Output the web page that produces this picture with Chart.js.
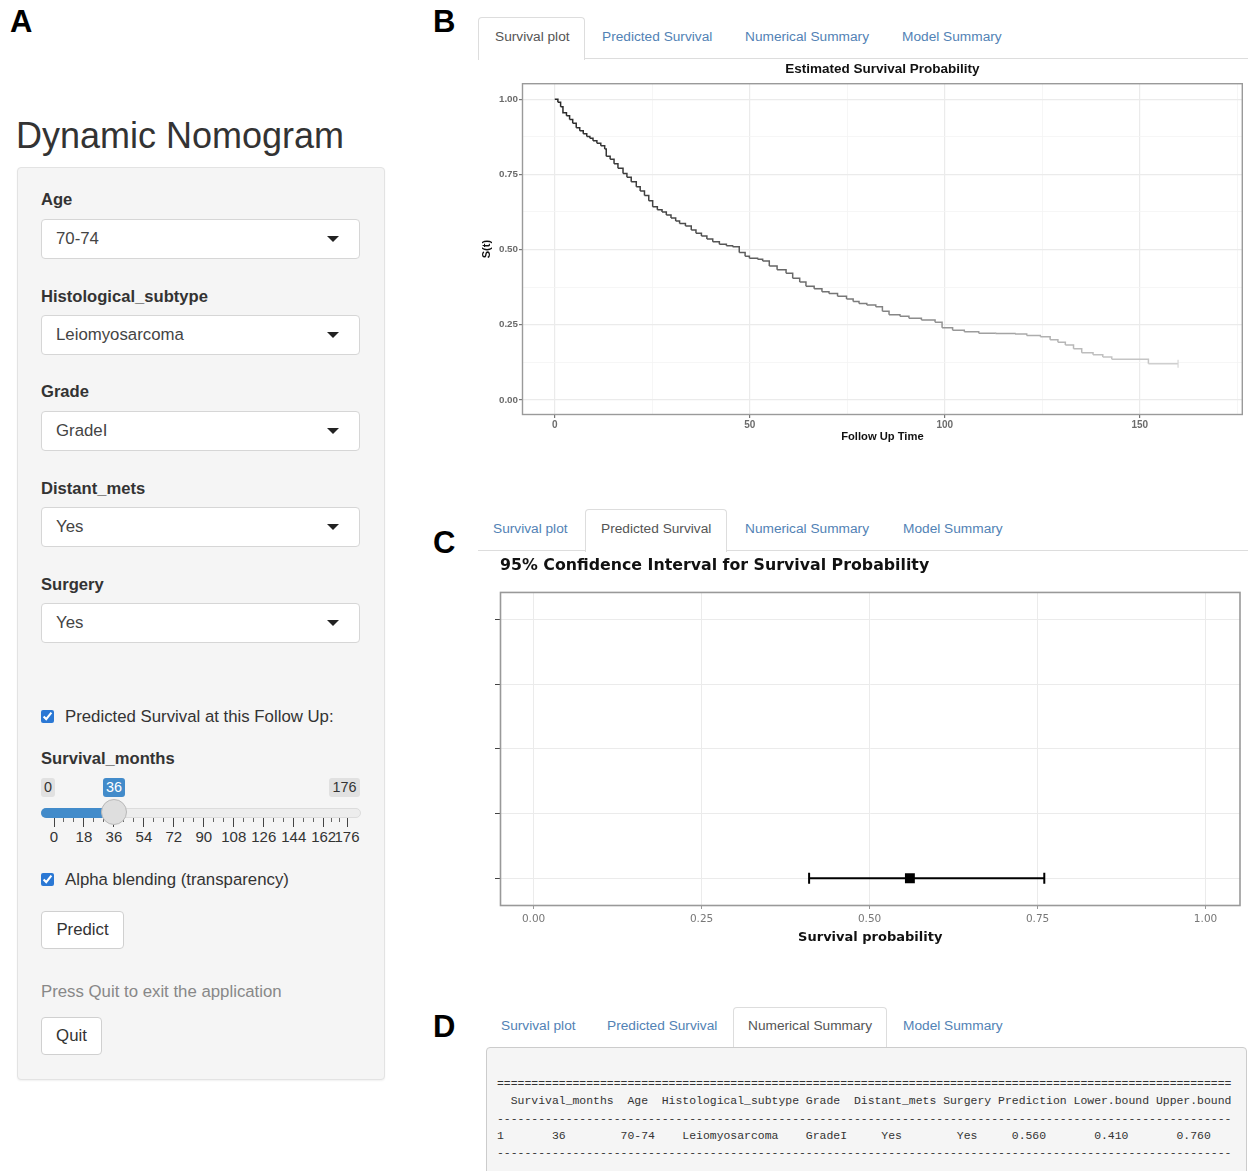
<!DOCTYPE html>
<html><head><meta charset="utf-8">
<script src="https://cdn.jsdelivr.net/npm/chart.js@4.4.1/dist/chart.umd.min.js"></script>
<style>
body{margin:0;background:#fff;width:1248px;height:1171px;position:relative;overflow:hidden;font-family:"Liberation Sans",Arial,sans-serif;color:#333;}
.abs{position:absolute;white-space:nowrap;}
.plab{position:absolute;font-weight:bold;font-size:31px;line-height:32px;color:#000;}
.well{position:absolute;left:17px;top:167px;width:366px;height:911px;background:#f5f5f5;border:1px solid #e3e3e3;border-radius:4px;box-shadow:0 1px 2px rgba(0,0,0,.06);}
.lbl{position:absolute;left:41px;font-weight:bold;font-size:16.6px;line-height:20px;color:#333;white-space:nowrap;}
.sel{position:absolute;left:41px;width:317px;height:38px;background:#fff;border:1px solid #d6d6d6;border-radius:4px;}
.sel span{position:absolute;left:14px;top:9px;font-size:16.8px;line-height:20px;color:#444;}
.sel i{position:absolute;right:20px;top:16px;width:0;height:0;border-left:6px solid transparent;border-right:6px solid transparent;border-top:6px solid #222;}
.txt{position:absolute;font-size:16.8px;line-height:20px;color:#333;white-space:nowrap;}
.cb{position:absolute;left:41px;width:13px;height:13px;margin:0;accent-color:#2b78d4;}
.btn{position:absolute;left:41px;height:36px;background:#fff;border:1px solid #d0d0d0;border-radius:4px;font-size:16.8px;line-height:36px;text-align:center;color:#333;}
.tab{position:absolute;font-size:13.7px;line-height:16px;color:#5282b5;white-space:nowrap;}
.tab.on{color:#555;}
.tabbox{position:absolute;border:1px solid #ddd;border-bottom:none;background:#fff;border-radius:4px 4px 0 0;}
.nav{position:absolute;height:1px;background:#ddd;}
.pre{position:absolute;left:486px;top:1047px;width:759px;height:140px;background:#f5f5f5;border:1px solid #ccc;border-radius:4px;}
.pre pre{position:absolute;left:10px;top:27px;margin:0;font-family:"Liberation Mono","DejaVu Sans Mono",monospace;font-size:11.45px;line-height:17.25px;color:#333;}
.sl-lab{position:absolute;top:778px;height:19px;font-size:14.4px;line-height:19px;text-align:center;border-radius:3px;}
</style></head>
<body>
<div class="plab" style="left:10px;top:6px">A</div>
<div class="plab" style="left:433px;top:6px">B</div>
<div class="plab" style="left:433px;top:527px">C</div>
<div class="plab" style="left:433px;top:1011px">D</div>

<div class="abs" style="left:16px;top:116px;font-size:36px;line-height:40px;color:#333">Dynamic Nomogram</div>
<div class="well"></div>
<div id="inputs"></div>

<input type="checkbox" class="cb" style="top:710px" checked>
<div class="txt" style="left:65px;top:707px">Predicted Survival at this Follow Up:</div>
<div class="lbl" style="top:749px">Survival_months</div>
<div id="slider"></div>
<input type="checkbox" class="cb" style="top:873px" checked>
<div class="txt" style="left:65px;top:870px">Alpha blending (transparency)</div>
<div class="btn" style="top:911px;width:81px">Predict</div>
<div class="txt" style="left:41px;top:982px;color:#888">Press Quit to exit the application</div>
<div class="btn" style="top:1017px;width:59px">Quit</div>

<!-- B tabs -->
<div class="tabbox" style="left:478px;top:17px;width:105px;height:42px"></div>
<div class="nav" style="left:584px;top:58px;width:664px"></div>
<div class="tab on" style="left:495px;top:29px">Survival plot</div>
<div class="tab" style="left:602px;top:29px">Predicted Survival</div>
<div class="tab" style="left:745px;top:29px">Numerical Summary</div>
<div class="tab" style="left:902px;top:29px">Model Summary</div>
<canvas id="cB" width="770" height="392" style="position:absolute;left:478px;top:56px"></canvas>

<!-- C tabs -->
<div class="nav" style="left:478px;top:550px;width:107px"></div>
<div class="tabbox" style="left:585px;top:509px;width:140px;height:42px"></div>
<div class="nav" style="left:726px;top:550px;width:522px"></div>
<div class="tab" style="left:493px;top:521px">Survival plot</div>
<div class="tab on" style="left:601px;top:521px">Predicted Survival</div>
<div class="tab" style="left:745px;top:521px">Numerical Summary</div>
<div class="tab" style="left:903px;top:521px">Model Summary</div>
<canvas id="cC" width="764" height="400" style="position:absolute;left:484px;top:550px"></canvas>

<!-- D tabs -->
<div class="tabbox" style="left:733px;top:1007px;width:152px;height:41px"></div>
<div class="tab" style="left:501px;top:1018px">Survival plot</div>
<div class="tab" style="left:607px;top:1018px">Predicted Survival</div>
<div class="tab on" style="left:748px;top:1018px">Numerical Summary</div>
<div class="tab" style="left:903px;top:1018px">Model Summary</div>
<div class="pre"><pre id="tbl"></pre></div>

<script>
// ---------- data ----------
const survTime = [0, 0.8, 1.5, 2.1, 3.0, 3.8, 4.6, 5.5, 6.4, 7.3, 8.2, 9.0, 9.8, 10.8, 11.8, 12.8, 13.2, 14.2, 15.2, 16.2, 17.5, 18.5, 19.6, 20.9, 21.9, 23.0, 24.1, 25.1, 26.3, 27.5, 28.6, 29.8, 31.0, 32.0, 33.5, 35.0, 36.2, 37.6, 39.0, 40.5, 42.2, 44.0, 45.6, 47.3, 48.8, 49.9, 52.0, 53.3, 55.0, 57.0, 59.3, 61.0, 62.8, 64.4, 66.5, 68.5, 70.3, 72.5, 74.8, 76.5, 78.0, 80.0, 82.3, 84.0, 85.7, 88.5, 90.8, 94.0, 97.5, 99.3, 102.0, 105.0, 108.7, 113.0, 118.0, 121.0, 124.5, 127.0, 129.0, 130.9, 133.0, 135.1, 138.0, 140.5, 142.8, 152.2, 159.8];
const survProb = [1.000, 0.990, 0.975, 0.955, 0.945, 0.932, 0.920, 0.905, 0.895, 0.885, 0.876, 0.870, 0.862, 0.853, 0.845, 0.834, 0.810, 0.800, 0.785, 0.770, 0.753, 0.740, 0.725, 0.709, 0.695, 0.680, 0.662, 0.642, 0.632, 0.625, 0.615, 0.605, 0.595, 0.587, 0.578, 0.565, 0.554, 0.545, 0.535, 0.526, 0.518, 0.513, 0.509, 0.490, 0.478, 0.471, 0.468, 0.462, 0.445, 0.433, 0.421, 0.405, 0.392, 0.378, 0.370, 0.360, 0.354, 0.345, 0.336, 0.327, 0.321, 0.316, 0.310, 0.295, 0.283, 0.278, 0.272, 0.266, 0.258, 0.240, 0.232, 0.227, 0.222, 0.221, 0.219, 0.214, 0.210, 0.200, 0.192, 0.183, 0.170, 0.157, 0.150, 0.143, 0.135, 0.120, 0.120];
const survXMajor = [0, 50, 100, 150];
const survXMinor = [25, 75, 125, 175];
const survYMajor = [0, 0.25, 0.5, 0.75, 1];
const survYMinor = [0.125, 0.375, 0.625, 0.875];

const ciRow = [1];
const ciPred = [0.56];
const ciLower = [0.41];
const ciUpper = [0.76];
const ciYTicks = [1, 2, 3, 4, 5];
const ciXTicks = [0, 0.25, 0.5, 0.75, 1];

const inputLabels = ['Age', 'Histological_subtype', 'Grade', 'Distant_mets', 'Surgery'];
const inputValues = ['70-74', 'Leiomyosarcoma', 'GradeI', 'Yes', 'Yes'];
const sliderTicks = [0, 18, 36, 54, 72, 90, 108, 126, 144, 162, 176];
const sliderMin = 0, sliderMax = 176, sliderValue = 36;

const tableHeaders = ['Survival_months', 'Age', 'Histological_subtype', 'Grade', 'Distant_mets', 'Surgery', 'Prediction', 'Lower.bound', 'Upper.bound'];
const tableRow = ['36', '70-74', 'Leiomyosarcoma', 'GradeI', 'Yes', 'Yes', ciPred[0].toFixed(3), ciLower[0].toFixed(3), ciUpper[0].toFixed(3)];

// ---------- left panel ----------
(function(){
  const host = document.getElementById('inputs');
  const labY = [190, 287, 382, 479, 575];
  const selY = [219, 315, 411, 507, 603];
  let h = '';
  inputLabels.forEach((l, i) => {
    h += `<div class="lbl" style="top:${labY[i]}px">${l}</div>`;
    h += `<div class="sel" style="top:${selY[i]}px"><span>${inputValues[i]}</span><i></i></div>`;
  });
  host.innerHTML = h;
  const s = document.getElementById('slider');
  const x0 = 54, x1 = 347;
  const px = v => x0 + (v - sliderMin) / (sliderMax - sliderMin) * (x1 - x0);
  let g = '';
  g += `<div class="sl-lab" style="left:41px;width:14px;background:#e1e1e1;color:#333">${sliderMin}</div>`;
  g += `<div class="sl-lab" style="left:329px;width:31px;background:#e1e1e1;color:#333">${sliderMax}</div>`;
  g += `<div class="sl-lab" style="left:${px(sliderValue)-11}px;width:22px;background:#428bca;color:#fff">${sliderValue}</div>`;
  g += `<div class="abs" style="left:41px;top:808px;width:318px;height:8px;background:#ededed;border:1px solid #dcdcdc;border-radius:5px"></div>`;
  g += `<div class="abs" style="left:41px;top:808px;width:${px(sliderValue)-41}px;height:10px;background:#428bca;border-radius:5px 0 0 5px"></div>`;
  for (let i = 0; i < sliderTicks.length; i++) {
    const x = px(sliderTicks[i]);
    g += `<div class="abs" style="left:${x-0.5}px;top:818px;width:1px;height:9px;background:#444"></div>`;
    g += `<div class="abs" style="left:${x-20}px;width:40px;text-align:center;top:828px;font-size:15px;line-height:18px;color:#333">${sliderTicks[i]}</div>`;
    if (i < sliderTicks.length - 1) {
      const xn = px(sliderTicks[i+1]);
      for (let k = 1; k <= 2; k++) {
        const xs = x + (xn - x) * k / 3;
        g += `<div class="abs" style="left:${xs-0.5}px;top:818px;width:1px;height:4px;background:#666"></div>`;
      }
    }
  }
  g += `<div class="abs" style="left:${px(sliderValue)-13}px;top:799px;width:24px;height:24px;border-radius:50%;background:#dedede;border:1px solid #b8b8b8"></div>`;
  s.innerHTML = g;

  // table text
  const center = (s, w) => { const p = Math.floor((w - s.length) / 2); return ' '.repeat(p) + s + ' '.repeat(w - s.length - p); };
  let hdr = ' ', row = '1';
  tableHeaders.forEach((hd, i) => {
    const w = Math.max(hd.length, tableRow[i].length);
    hdr += ' ' + center(hd, w);
    row += ' ' + center(tableRow[i], w);
  });
  const n = hdr.length;
  document.getElementById('tbl').textContent = ['='.repeat(n), hdr, '-'.repeat(n), row, '-'.repeat(n)].join('\n');
})();

// ---------- charts ----------
const frame = {
  id: 'frame',
  afterDatasetsDraw(chart, args, opts) {
    const a = chart.chartArea, c = chart.ctx;
    c.save(); c.strokeStyle = opts.color; c.lineWidth = opts.width;
    c.strokeRect(a.left + 0.5, a.top + 0.5, a.right - a.left - 1, a.bottom - a.top - 1);
    c.restore();
  }
};

const grayAt = t => { const g = Math.min(215, Math.round(40 + t * 1.1)); return `rgb(${g},${g},${g})`; };
const nS = survTime.length;

new Chart(document.getElementById('cB'), {
  type: 'line',
  data: { datasets: [{
    data: survTime.map((t, i) => ({ x: t, y: survProb[i] })),
    stepped: 'before',
    borderWidth: 1.5,
    fill: false,
    segment: { borderColor: c => grayAt(c.p0.parsed.x) },
    borderColor: '#555',
    pointRadius: c => c.dataIndex === nS - 1 ? 4 : 0,
    pointStyle: 'line',
    rotation: 90,
    pointBorderColor: grayAt(survTime[nS - 1]),
    pointBorderWidth: 1.2
  }]},
  options: {
    responsive: false, animation: false, devicePixelRatio: 1,
    layout: { padding: { left: 0, right: 3, top: 0, bottom: 0 } },
    plugins: {
      legend: { display: false }, tooltip: { enabled: false },
      title: { display: true, text: 'Estimated Survival Probability', fullSize: false, color: '#111',
        font: { family: '"Liberation Sans", Arial, sans-serif', size: 13.5, weight: 'bold' }, padding: { top: 5, bottom: 6 } },
      frame: { color: '#9a9a9a', width: 1.4 }
    },
    scales: {
      x: {
        type: 'linear', min: -8.4, max: 176.4,
        afterBuildTicks: a => { a.ticks = survXMajor.concat(survXMinor).sort((p, q) => p - q).map(v => ({ value: v })); },
        afterFit: s => { s.height = 33; },
        ticks: { autoSkip: false, maxRotation: 0, padding: 1, color: '#6b6b6b',
          font: { family: '"Liberation Sans", Arial, sans-serif', size: 10, weight: 'bold' },
          callback: v => survXMajor.includes(v) ? String(v) : '' },
        grid: { color: c => survXMajor.includes(c.tick.value) ? '#ebebeb' : '#f4f4f4',
          lineWidth: c => survXMajor.includes(c.tick.value) ? 1.2 : 0.8,
          tickColor: c => survXMajor.includes(c.tick.value) ? '#777' : 'rgba(0,0,0,0)', tickLength: 3 },
        border: { display: false },
        title: { display: true, text: 'Follow Up Time', color: '#111',
          font: { family: '"Liberation Sans", Arial, sans-serif', size: 11.2, weight: 'bold' }, padding: { top: 0, bottom: 4 } }
      },
      y: {
        type: 'linear', min: -0.05, max: 1.053,
        afterBuildTicks: a => { a.ticks = survYMajor.concat(survYMinor).sort((p, q) => p - q).map(v => ({ value: v })); },
        afterFit: s => { s.width = 44; },
        ticks: { autoSkip: false, padding: 1, color: '#6b6b6b',
          font: { family: '"Liberation Sans", Arial, sans-serif', size: 9.8, weight: 'bold' },
          callback: v => survYMajor.includes(v) ? v.toFixed(2) : '' },
        grid: { color: c => survYMajor.includes(c.tick.value) ? '#ebebeb' : '#f4f4f4',
          lineWidth: c => survYMajor.includes(c.tick.value) ? 1.2 : 0.8,
          tickColor: c => survYMajor.includes(c.tick.value) ? '#777' : 'rgba(0,0,0,0)', tickLength: 3 },
        border: { display: false },
        title: { display: true, text: 'S(t)', color: '#111',
          font: { family: '"Liberation Sans", Arial, sans-serif', size: 11, weight: 'bold' }, padding: { top: 2.5, bottom: 0 } }
      }
    }
  },
  plugins: [frame]
});

const dvs = '"DejaVu Sans", Verdana, sans-serif';
new Chart(document.getElementById('cC'), {
  type: 'line',
  data: { datasets: [
    {
      data: ciRow.flatMap((r, i) => [{ x: ciLower[i], y: r }, { x: ciUpper[i], y: r }]),
      borderColor: '#000', borderWidth: 2, showLine: true, fill: false,
      pointStyle: 'line', rotation: 90, pointRadius: 5.5, pointBorderColor: '#000', pointBorderWidth: 2
    },
    {
      data: ciRow.map((r, i) => ({ x: ciPred[i], y: r })),
      showLine: false, pointStyle: 'rect', pointRadius: 7,
      pointBackgroundColor: '#000', pointBorderColor: '#000', pointBorderWidth: 0
    }
  ]},
  options: {
    responsive: false, animation: false, devicePixelRatio: 1,
    layout: { padding: { left: 0, right: 1, top: 0, bottom: 0 } },
    plugins: {
      legend: { display: false }, tooltip: { enabled: false },
      title: { display: true, text: '95% Confidence Interval for Survival Probability', align: 'start', fullSize: false, color: '#111',
        font: { family: dvs, size: 15.8, weight: 'bold' }, padding: { top: 6, bottom: 17 } },
      frame: { color: '#999', width: 1.6 }
    },
    scales: {
      x: {
        type: 'linear', min: -0.05, max: 1.052,
        afterBuildTicks: a => { a.ticks = ciXTicks.map(v => ({ value: v })); },
        afterFit: s => { s.height = 44; },
        ticks: { autoSkip: false, maxRotation: 0, padding: 4, color: '#777',
          font: { family: dvs, size: 10.5 }, callback: v => v.toFixed(2) },
        grid: { color: '#ebebeb', lineWidth: 1, tickColor: '#999', tickLength: 3 },
        border: { display: false },
        title: { display: true, text: 'Survival probability', color: '#111',
          font: { family: dvs, size: 13, weight: 'bold' }, padding: { top: 0, bottom: 5 } }
      },
      y: {
        type: 'linear', min: 0.57, max: 5.43,
        afterBuildTicks: a => { a.ticks = ciYTicks.map(v => ({ value: v })); },
        afterFit: s => { s.width = 16; },
        ticks: { autoSkip: false, padding: 0, callback: () => '' },
        grid: { color: '#ebebeb', lineWidth: 1, tickColor: '#444', tickLength: 5 },
        border: { display: false }
      }
    }
  },
  plugins: [frame]
});
</script>
</body></html>
